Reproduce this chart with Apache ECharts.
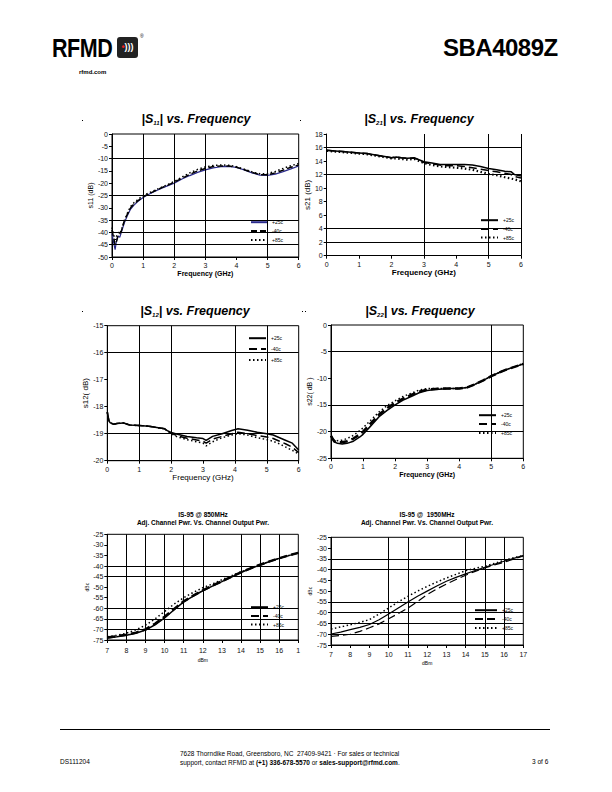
<!DOCTYPE html>
<html><head><meta charset="utf-8">
<script src="https://cdn.jsdelivr.net/npm/echarts@6/dist/echarts.min.js"></script>
<style>
body{margin:0;width:612px;height:792px;background:#fff;position:relative;overflow:hidden;font-family:"Liberation Sans",Arial,sans-serif;color:#000}
.c{position:absolute;left:0;top:0;width:612px;height:792px}
.t{position:absolute;white-space:nowrap}
.dot{position:absolute;width:1px;height:1px;background:#000}
</style></head><body>
<div class="t" style="left:52px;top:34px;font-weight:bold;font-size:25px;letter-spacing:-0.5px;transform:scaleX(0.86);transform-origin:0 0">RFMD</div>
<div class="t" style="left:117px;top:37px;width:21px;height:21px;background:#222;border-radius:3px;color:#fff;font-weight:bold;font-size:9px;line-height:21px;text-align:center"><span style="color:#e22">•</span>)))</div>
<div class="t" style="left:140px;top:33px;font-size:5px">®</div>
<div class="t" style="left:79px;top:69px;font-weight:bold;font-size:6px">rfmd.com</div>
<div class="t" style="left:443px;top:34px;font-weight:bold;font-size:24px;letter-spacing:-0.5px">SBA4089Z</div>
<div class="dot" style="left:82px;top:120px"></div><div class="dot" style="left:300px;top:120px"></div>
<div class="dot" style="left:82px;top:311px"></div><div class="dot" style="left:302px;top:311px"></div><div class="dot" style="left:305px;top:311px"></div>
<div class="t" style="left:60px;top:729px;width:490px;height:1px;background:#000"></div>
<div class="t" style="left:60px;top:758px;font-size:6.5px">DS111204</div>
<div class="t" style="left:180px;top:749px;font-size:6.5px;line-height:9px">7628 Thorndike Road, Greensboro, NC&nbsp; 27409-9421 · For sales or technical<br>support, contact RFMD at <b>(+1) 336-678-5570</b> or <b>sales-support@rfmd.com</b>.</div>
<div class="t" style="left:532px;top:758px;font-size:6.5px">3 of 6</div>
<div id="c1" class="c"></div><div id="c2" class="c"></div><div id="c3" class="c"></div>
<div id="c4" class="c"></div><div id="c5" class="c"></div><div id="c6" class="c"></div>
<script>
// ---------- DATA ----------
const legendNames = ['+25c', '-40c', '+85c'];

const s11Freq = [0, 0.05, 0.1, 0.15, 0.2, 0.25, 0.3, 0.4, 0.5, 0.6, 0.7, 0.85, 1.0, 1.2, 1.4, 1.6, 1.8, 2.0, 2.25, 2.5, 2.75, 3.0, 3.25, 3.5, 3.75, 4.0, 4.25, 4.5, 4.75, 5.0, 5.25, 5.5, 5.75, 6.0];
const s11P25 = [-40.5, -44, -47, -43, -41.5, -42, -40, -36, -33, -30.5, -29, -27.2, -25.8, -24.4, -23.2, -22, -21, -20, -18.3, -16.9, -15.6, -14.6, -13.8, -13.3, -13.2, -13.6, -14.6, -15.8, -16.7, -16.8, -16.3, -15.3, -14.2, -13.0];
const s11M40 = [-39, -42, -45, -43.5, -41, -40.5, -39.5, -35, -32.5, -30, -28.5, -27, -25.5, -24.2, -23, -21.8, -20.8, -19.6, -18, -16.4, -15, -14, -13.2, -13, -13, -13.5, -14.5, -15.6, -16.5, -16.6, -15.8, -14.7, -13.5, -12.6];
const s11P85 = [-38, -41, -43, -41.5, -40, -40.5, -39, -35.5, -32, -29.5, -28, -26.5, -25, -23.9, -22.7, -21.6, -20.5, -19.3, -17.5, -15.8, -14.4, -13.4, -12.8, -12.6, -12.7, -13.3, -14.3, -15.4, -16.2, -16.1, -15.2, -14, -12.9, -12.0];

const s21Freq = [0, 0.25, 0.5, 0.75, 1.0, 1.25, 1.5, 1.75, 2.0, 2.15, 2.3, 2.5, 2.7, 2.85, 3.0, 3.25, 3.5, 3.75, 4.0, 4.25, 4.5, 4.75, 5.0, 5.25, 5.5, 5.7, 5.8, 6.0];
const s21P25 = [15.6, 15.5, 15.4, 15.3, 15.2, 15.1, 14.9, 14.7, 14.5, 14.6, 14.5, 14.4, 14.5, 14.2, 13.9, 13.7, 13.5, 13.5, 13.5, 13.5, 13.4, 13.2, 12.9, 12.7, 12.5, 12.4, 12.0, 11.8];
const s21M40 = [15.6, 15.5, 15.4, 15.3, 15.2, 15.1, 14.9, 14.7, 14.5, 14.6, 14.5, 14.4, 14.4, 14.2, 13.8, 13.6, 13.4, 13.3, 13.3, 13.2, 13.0, 12.8, 12.6, 12.4, 12.2, 12.0, 11.7, 11.5];
const s21P85 = [15.5, 15.4, 15.3, 15.2, 15.1, 15.0, 14.8, 14.6, 14.4, 14.4, 14.3, 14.2, 14.3, 14.0, 13.7, 13.4, 13.2, 13.1, 13.0, 12.9, 12.7, 12.4, 12.1, 11.9, 11.6, 11.4, 11.3, 11.0];

const s12Freq = [0, 0.03, 0.06, 0.1, 0.2, 0.3, 0.5, 0.7, 1.0, 1.3, 1.6, 1.8, 1.9, 2.0, 2.2, 2.5, 2.8, 3.0, 3.1, 3.3, 3.6, 3.9, 4.1, 4.4, 4.7, 5.0, 5.2, 5.4, 5.6, 5.8, 6.0];
const s12P25 = [-18.2, -18.4, -18.55, -18.6, -18.65, -18.62, -18.6, -18.68, -18.7, -18.72, -18.78, -18.82, -18.9, -18.95, -19.02, -19.1, -19.15, -19.18, -19.25, -19.1, -19.0, -18.88, -18.82, -18.87, -18.95, -19.0, -19.05, -19.15, -19.25, -19.35, -19.6];
const s12M40 = [-18.2, -18.4, -18.55, -18.6, -18.65, -18.62, -18.6, -18.68, -18.7, -18.72, -18.78, -18.82, -18.92, -18.98, -19.08, -19.17, -19.23, -19.28, -19.35, -19.2, -19.1, -19.0, -18.95, -19.0, -19.07, -19.12, -19.18, -19.28, -19.38, -19.5, -19.7];
const s12P85 = [-18.2, -18.4, -18.55, -18.6, -18.65, -18.62, -18.6, -18.68, -18.7, -18.72, -18.78, -18.82, -18.93, -19.0, -19.12, -19.22, -19.3, -19.35, -19.45, -19.3, -19.15, -19.05, -19.0, -19.05, -19.15, -19.22, -19.28, -19.38, -19.5, -19.62, -19.75];

const s22Freq = [0, 0.05, 0.1, 0.2, 0.35, 0.5, 0.7, 0.9, 1.0, 1.2, 1.5, 1.75, 2.0, 2.25, 2.5, 2.75, 3.0, 3.25, 3.5, 3.75, 4.0, 4.25, 4.5, 4.75, 5.0, 5.25, 5.5, 5.75, 6.0];
const s22P25 = [-20.8, -21.3, -21.9, -22.2, -22.3, -22.2, -21.8, -21.0, -20.5, -19.2, -17.2, -16.0, -15.0, -14.1, -13.4, -12.7, -12.3, -12.1, -12.0, -11.9, -11.9, -11.7, -11.1, -10.4, -9.6, -8.9, -8.3, -7.8, -7.3];
const s22M40 = [-20.8, -21.3, -21.8, -22.0, -22.0, -21.8, -21.3, -20.5, -20.0, -18.7, -16.8, -15.6, -14.6, -13.8, -13.1, -12.5, -12.1, -12.0, -11.9, -11.9, -11.9, -11.7, -11.1, -10.4, -9.6, -8.9, -8.3, -7.8, -7.3];
const s22P85 = [-20.8, -21.3, -21.6, -21.7, -21.6, -21.3, -20.7, -19.8, -19.3, -18.1, -16.3, -15.1, -14.2, -13.4, -12.8, -12.2, -11.9, -11.9, -11.9, -11.9, -11.9, -11.7, -11.1, -10.4, -9.6, -8.9, -8.3, -7.8, -7.2];

const acpPout = [7, 7.5, 8, 8.5, 9, 9.5, 10, 10.5, 11, 11.5, 12, 12.5, 13, 13.5, 14, 14.5, 15, 15.5, 16, 16.5, 17];
const acp850P25 = [-74, -73.5, -72.8, -71.8, -70.3, -67.8, -64.5, -60.7, -57, -54.2, -51.7, -49.5, -47.4, -45.2, -43.1, -41.2, -39.5, -37.9, -36.4, -35.1, -33.8];
const acp850M40 = [-73.8, -73.2, -72.5, -71.5, -70, -67.3, -64, -60.3, -56.7, -54, -51.5, -49.3, -47.2, -45, -43, -41.1, -39.4, -37.8, -36.3, -35, -33.8];
const acp850P85 = [-73.5, -72.8, -71.8, -70.2, -68, -65, -61.5, -58, -55, -52.5, -50.3, -48.5, -46.5, -44.6, -42.7, -41, -39.3, -37.8, -36.3, -35, -33.8];
const acp1950P25 = [-69.9, -69, -67.9, -66.8, -65.5, -63.3, -60.6, -57.8, -55, -52.4, -50, -47.6, -45.4, -43.6, -42, -40.4, -38.9, -37.5, -36.1, -34.8, -33.5];
const acp1950M40 = [-71, -70.6, -70, -68.7, -67, -65.2, -62.8, -60.4, -57.8, -54.8, -51.6, -49, -46.7, -44.6, -42.6, -40.8, -39.2, -37.8, -36.6, -35.1, -33.6];
const acp1950P85 = [-67.6, -66.6, -65.6, -64.5, -63.2, -60.6, -57.8, -55, -52.4, -50, -47.8, -45.8, -43.9, -42.2, -40.5, -39.4, -38.5, -37.1, -35.7, -34.5, -33.4];

const xTicks850 = ['7', '8', '9', '10', '11', '12', '13', '14', '15', '16', '1'];
const xTicks1950 = ['7', '8', '9', '10', '11', '12', '13', '14', '15', '16', '17'];

// ---------- RENDERING ----------
const FF = '"Liberation Sans", Arial, sans-serif';
const zip = (xs, ys) => xs.map((x, i) => [x, ys[i]]);

function ser(name, xs, ys, color, width, dash) {
  return { name, type: 'line', data: zip(xs, ys), symbol: 'none', showSymbol: false,
    lineStyle: { color, width, type: dash }, itemStyle: { color }, z: 3, animation: false, silent: true };
}

function build(id, c) {
  const chart = echarts.init(document.getElementById(id), null, { renderer: 'svg', width: 612, height: 792 });
  const gridLines = [];
  c.gy.forEach(v => gridLines.push({ yAxis: v }));
  c.gx.forEach(v => gridLines.push({ xAxis: v }));
  const axisCommon = {
    type: 'value', splitLine: { show: false },
    axisLine: { show: true, onZero: false, lineStyle: { color: '#000', width: 1 } },
    axisTick: { show: true, length: 3, lineStyle: { color: '#000', width: 1 } },
    nameLocation: 'middle'
  };
  const graphics = c.titles.map(t => ({
    type: 'text', x: t.x, y: t.y, silent: true,
    style: Object.assign({ fill: '#000', align: 'center', verticalAlign: 'middle' }, t.style)
  }));
  chart.setOption({
    animation: false,
    grid: { left: c.l, top: c.t, width: c.r - c.l, height: c.b - c.t, show: c.box, borderColor: '#000', borderWidth: 1, backgroundColor: 'transparent' },
    xAxis: Object.assign({}, axisCommon, {
      min: c.xmin, max: c.xmax, interval: 1,
      axisLabel: { fontSize: 7, color: '#111', fontFamily: FF, margin: c.xLabMargin || 5, showMinLabel: true, showMaxLabel: true,
        formatter: c.xTicks ? (v => c.xTicks[Math.round(v - c.xmin)]) : (v => String(v)) },
      name: c.xName, nameGap: c.xNameGap, nameTextStyle: c.xNameStyle
    }),
    yAxis: Object.assign({}, axisCommon, {
      min: c.ymin, max: c.ymax, interval: c.yint,
      axisLabel: { fontSize: 7, color: '#111', fontFamily: FF, margin: 4, showMinLabel: true, showMaxLabel: true },
      name: c.yName, nameGap: c.yNameGap, nameRotate: 90, nameTextStyle: c.yNameStyle
    }),
    legend: {
      data: legendNames, orient: 'vertical', left: c.lg[0], top: c.lg[1],
      itemWidth: c.lg[2], itemHeight: 8, itemGap: c.lg[3], padding: [1, 3, 1, 1],
      backgroundColor: '#fff', selectedMode: false,
      itemStyle: { opacity: 0, color: 'rgba(0,0,0,0)', borderWidth: 0 },
      textStyle: { fontSize: 5, color: '#000', fontFamily: FF }
    },
    graphic: graphics,
    series: [{
      name: '_grid', type: 'line', data: [[c.xmin, c.ymin]], symbol: 'none', lineStyle: { opacity: 0 }, silent: true, z: 1,
      markLine: { silent: true, symbol: ['none', 'none'], label: { show: false }, animation: false,
        lineStyle: { color: '#000', type: 'solid', width: 1 }, emphasis: { disabled: true }, data: gridLines }
    }].concat(c.series)
  });
}

const titleRich = {
  a: { fontSize: 12.5, fontWeight: 'bold', fontStyle: 'italic', fontFamily: FF },
  s: { fontSize: 6, fontWeight: 'bold', fontStyle: 'italic', fontFamily: FF, verticalAlign: 'bottom', padding: [0, 0, 0, 0] }
};
const freqName = { fontSize: 7, fontWeight: 'bold', fontFamily: FF, color: '#000' };
const yNameS = { fontSize: 7, fontFamily: FF, color: '#000' };
const smallName = { fontSize: 5, fontFamily: FF, color: '#000' };
function sTitle(x, y, sub) {
  return { x, y, style: { text: '{a||S}{s|' + sub + '}{a|| vs. Frequency}', rich: titleRich } };
}
function acpTitles(x, y, line1) {
  return [
    { x, y, style: { text: line1, fontSize: 6.5, fontFamily: FF, fontWeight: 'bold' } },
    { x, y: y + 8.5, style: { text: 'Adj. Channel Pwr. Vs. Channel Output Pwr.', fontSize: 6.5, fontFamily: FF, fontWeight: 'bold' } }
  ];
}

const BLUE = '#2a2a8c', BLK = '#000';
const DASH = [6, 3], LDASH = [8, 4], DOT = [1.5, 2.5];

build('c1', { l: 112, t: 134, r: 298.7, b: 257, xmin: 0, xmax: 6, ymin: -50, ymax: 0, yint: 5, box: true,
  gx: [1, 2, 3, 5], gy: [-10, -25, -35, -40, -45],
  xName: 'Frequency (GHz)', xNameGap: 12, xNameStyle: freqName, yName: 's11 (dB)', yNameGap: 15, yNameStyle: yNameS,
  lg: [249, 218, 16, 2.5], titles: [sTitle(196, 119, '11')],
  series: [ser('+25c', s11Freq, s11P25, BLUE, 1.2, 'solid'), ser('-40c', s11Freq, s11M40, BLK, 1.5, DASH), ser('+85c', s11Freq, s11P85, BLK, 1.5, DOT)] });

build('c2', { l: 326.7, t: 134, r: 521, b: 255.7, xmin: 0, xmax: 6, ymin: 0, ymax: 18, yint: 2, box: false,
  gx: [3, 5, 6], gy: [16, 12, 4, 2],
  xName: 'Frequency (GHz)', xNameGap: 11, xNameStyle: Object.assign({}, freqName, { fontSize: 8 }), yName: 's21 (dB)', yNameGap: 14, yNameStyle: Object.assign({}, yNameS, { fontSize: 8 }),
  lg: [479, 216, 17, 2.3], titles: [sTitle(419, 119, '21')],
  series: [ser('+25c', s21Freq, s21P25, BLK, 1.5, 'solid'), ser('-40c', s21Freq, s21M40, BLK, 1.5, LDASH), ser('+85c', s21Freq, s21P85, BLK, 2.2, DOT)] });

build('c3', { l: 107.3, t: 325.7, r: 298.7, b: 460.7, xmin: 0, xmax: 6, ymin: -20, ymax: -15, yint: 1, box: true,
  gx: [1, 2, 4, 5], gy: [-16, -19],
  xName: 'Frequency (GHz)', xNameGap: 12, xNameStyle: Object.assign({}, freqName, { fontWeight: 'normal', fontSize: 8 }), yName: 's12( dB)', yNameGap: 18, yNameStyle: Object.assign({}, yNameS, { fontSize: 8 }),
  lg: [247, 334, 17, 4.5], titles: [sTitle(195, 311, '12')],
  series: [ser('+25c', s12Freq, s12P25, BLK, 1.5, 'solid'), ser('-40c', s12Freq, s12M40, BLK, 1.5, LDASH), ser('+85c', s12Freq, s12P85, BLK, 1.5, DOT)] });

build('c4', { l: 331, t: 325, r: 523.3, b: 458.3, xmin: 0, xmax: 6, ymin: -25, ymax: 0, yint: 5, box: true,
  gx: [5], gy: [-5, -15, -20],
  xName: 'Frequency (GHz)', xNameGap: 12, xNameStyle: freqName, yName: 's22( dB )', yNameGap: 12, yNameStyle: yNameS,
  lg: [477, 411, 17, 2.5], titles: [sTitle(420, 311, '22')],
  series: [ser('+25c', s22Freq, s22P25, BLK, 1.5, 'solid'), ser('-40c', s22Freq, s22M40, BLK, 2.5, LDASH), ser('+85c', s22Freq, s22P85, BLK, 1.5, DOT)] });

build('c5', { l: 107.3, t: 534.3, r: 298.3, b: 640, xmin: 7, xmax: 17, ymin: -75, ymax: -25, yint: 5, box: true, xTicks: xTicks850, xLabMargin: 7,
  gx: [8, 9, 10, 11, 12, 14, 15, 16], gy: [-40, -45, -60, -65, -70],
  xName: 'dBm', xNameGap: 17, xNameStyle: smallName, yName: 'dBc', yNameGap: 14, yNameStyle: smallName,
  lg: [249, 603, 17, 2.3], titles: acpTitles(203, 514, 'IS-95 @ 850MHz'),
  series: [ser('+25c', acpPout, acp850P25, BLK, 1.5, 'solid'), ser('-40c', acpPout, acp850M40, BLK, 2.5, LDASH), ser('+85c', acpPout, acp850P85, BLK, 1.5, DOT)] });

build('c6', { l: 331, t: 537.3, r: 523.3, b: 645, xmin: 7, xmax: 17, ymin: -75, ymax: -25, yint: 5, box: true, xTicks: xTicks1950, xLabMargin: 6,
  gx: [10, 11, 14, 15, 16], gy: [-35, -40, -55, -60, -65, -70],
  xName: 'dBm', xNameGap: 15, xNameStyle: smallName, yName: 'dBc', yNameGap: 14, yNameStyle: smallName,
  lg: [473, 606, 22, 2.5], titles: acpTitles(427, 514, 'IS-95 @  1950MHz'),
  series: [ser('+25c', acpPout, acp1950P25, BLK, 1.2, 'solid'), ser('-40c', acpPout, acp1950M40, BLK, 1.2, LDASH), ser('+85c', acpPout, acp1950P85, BLK, 1.5, DOT)] });
</script>
</body></html>
